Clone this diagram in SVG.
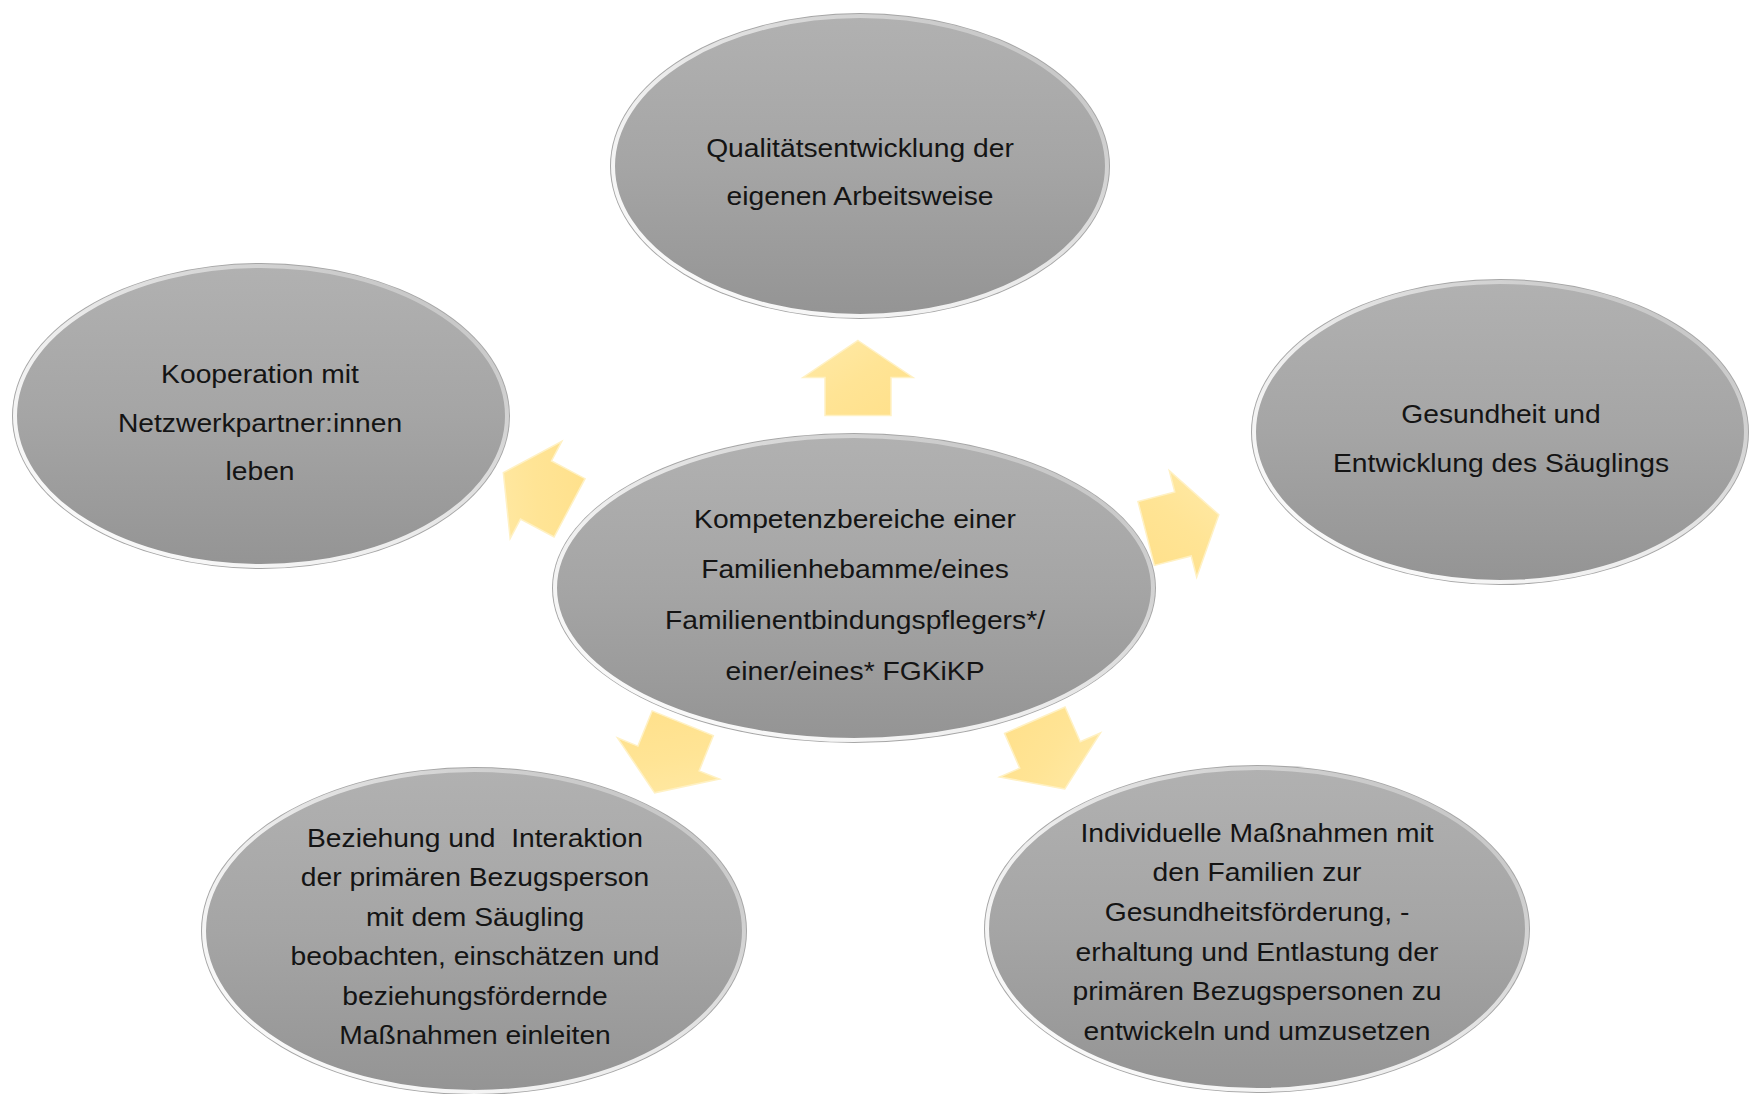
<svg xmlns="http://www.w3.org/2000/svg" width="1751" height="1094" viewBox="0 0 1751 1094">
<defs>
  <linearGradient id="fillGrad" x1="0" y1="0" x2="0" y2="1">
    <stop offset="0" stop-color="#b1b1b1"/>
    <stop offset="0.5" stop-color="#a5a5a5"/>
    <stop offset="1" stop-color="#949494"/>
  </linearGradient>
  <linearGradient id="rimGrad" x1="0" y1="1" x2="1" y2="0">
    <stop offset="0" stop-color="#ffffff"/>
    <stop offset="0.45" stop-color="#ececec"/>
    <stop offset="1" stop-color="#bcbcbc"/>
  </linearGradient>
  <linearGradient id="arrowGrad" x1="0" y1="0" x2="1" y2="1">
    <stop offset="0" stop-color="#ffeaa8"/>
    <stop offset="0.5" stop-color="#ffe495"/>
    <stop offset="1" stop-color="#ffe08a"/>
  </linearGradient>
  <polygon id="arrowShape" points="0,-37 55,0 33,0 33,38 -33,38 -33,0 -55,0"/>
</defs>
<style>
  .outer { fill: #a6a6a6; }
  .node { fill: url(#fillGrad); stroke: url(#rimGrad); stroke-width: 4; }
  .lbl { font-family: "Liberation Sans", Arial, sans-serif; font-size: 26px; fill: #141414; text-anchor: middle; }
  .arrow { fill: url(#arrowGrad); stroke: #fff1c4; stroke-width: 1.5; stroke-linejoin: miter; }
</style>
<rect width="1751" height="1094" fill="#ffffff"/>

<g id="connectors">
  <use href="#arrowShape" class="arrow" transform="translate(858 377.5)"/>
  <use href="#arrowShape" class="arrow" transform="translate(536 490) rotate(-62)"/>
  <use href="#arrowShape" class="arrow" transform="translate(1183 524) rotate(75.6)"/>
  <use href="#arrowShape" class="arrow" transform="translate(668.5 758.5) rotate(202)"/>
  <use href="#arrowShape" class="arrow" transform="translate(1050 755) rotate(156.4)"/>
</g>

<g id="node-top">
  <ellipse class="outer" cx="860" cy="166" rx="250" ry="153"/>
  <ellipse class="node" cx="860" cy="166" rx="247" ry="150"/>
  <text class="lbl" transform="translate(860 0) scale(1.087 1)"><tspan x="0" y="157">Qualitätsentwicklung der</tspan><tspan x="0" y="205">eigenen Arbeitsweise</tspan></text>
</g>

<g id="node-left">
  <ellipse class="outer" cx="261" cy="416" rx="249" ry="153"/>
  <ellipse class="node" cx="261" cy="416" rx="246" ry="150"/>
  <text class="lbl" transform="translate(260 0) scale(1.087 1)"><tspan x="0" y="383">Kooperation mit</tspan><tspan x="0" y="432">Netzwerkpartner:innen</tspan><tspan x="0" y="480">leben</tspan></text>
</g>

<g id="node-right">
  <ellipse class="outer" cx="1500" cy="432" rx="249" ry="153"/>
  <ellipse class="node" cx="1500" cy="432" rx="246" ry="150"/>
  <text class="lbl" transform="translate(1501 0) scale(1.087 1)"><tspan x="0" y="423">Gesundheit und</tspan><tspan x="0" y="472">Entwicklung des Säuglings</tspan></text>
</g>

<g id="node-center">
  <ellipse class="outer" cx="854" cy="588" rx="302" ry="155"/>
  <ellipse class="node" cx="854" cy="588" rx="299" ry="152"/>
  <text class="lbl" transform="translate(855 0) scale(1.087 1)"><tspan x="0" y="528">Kompetenzbereiche einer</tspan><tspan x="0" y="578">Familienhebamme/eines</tspan><tspan x="0" y="629">Familienentbindungspflegers*/</tspan><tspan x="0" y="680">einer/eines* FGKiKP</tspan></text>
</g>

<g id="node-bottom-left">
  <ellipse class="outer" cx="474" cy="931" rx="273" ry="164"/>
  <ellipse class="node" cx="474" cy="931" rx="270" ry="161"/>
  <text class="lbl" transform="translate(475 0) scale(1.087 1)"><tspan x="0" y="847">Beziehung und&#160; Interaktion</tspan><tspan x="0" y="886.5">der primären Bezugsperson</tspan><tspan x="0" y="926">mit dem Säugling</tspan><tspan x="0" y="965.5">beobachten, einschätzen und</tspan><tspan x="0" y="1005">beziehungsfördernde</tspan><tspan x="0" y="1044">Maßnahmen einleiten</tspan></text>
</g>

<g id="node-bottom-right">
  <ellipse class="outer" cx="1257" cy="929" rx="273" ry="164"/>
  <ellipse class="node" cx="1257" cy="929" rx="270" ry="161"/>
  <text class="lbl" transform="translate(1257 0) scale(1.087 1)"><tspan x="0" y="842">Individuelle Maßnahmen mit</tspan><tspan x="0" y="881.5">den Familien zur</tspan><tspan x="0" y="921">Gesundheitsförderung, -</tspan><tspan x="0" y="961">erhaltung und Entlastung der</tspan><tspan x="0" y="1000.5">primären Bezugspersonen zu</tspan><tspan x="0" y="1040">entwickeln und umzusetzen</tspan></text>
</g>
</svg>
